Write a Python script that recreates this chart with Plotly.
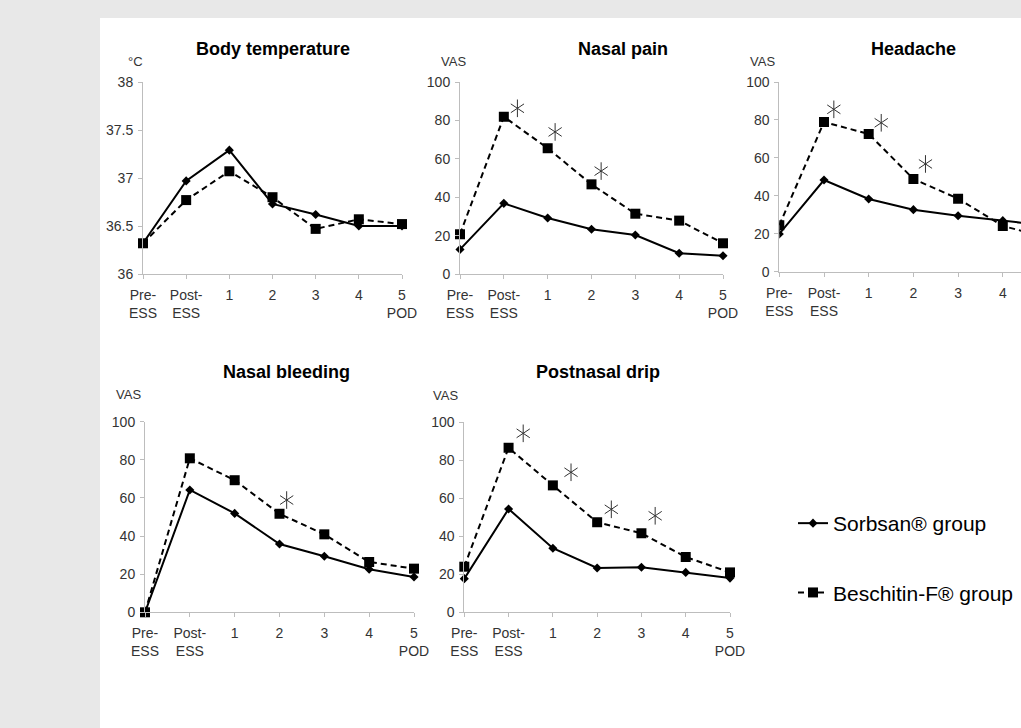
import plotly.graph_objects as go

# ---------------- data ----------------
categories = ["Pre-<br>ESS", "Post-<br>ESS", "1", "2", "3", "4", "5<br>POD"]

temp_sorbsan = [36.32, 36.97, 37.29, 36.73, 36.62, 36.50, 36.50]
temp_beschitin = [36.32, 36.77, 37.07, 36.80, 36.47, 36.57, 36.52]

pain_sorbsan = [12.8, 36.8, 29.2, 23.3, 20.3, 10.8, 9.5]
pain_beschitin = [20.7, 81.9, 65.5, 46.7, 31.4, 27.8, 16.0]
pain_sig_x = [1.31, 2.17, 3.22]
pain_sig_y = [86.3, 74.0, 53.6]

head_sorbsan = [19.9, 48.3, 38.3, 32.7, 29.5, 26.9, 24.3]
head_beschitin = [24.5, 78.9, 72.6, 48.9, 38.5, 24.1, 18.0]
head_sig_x = [1.22, 2.28, 3.27]
head_sig_y = [85.6, 78.5, 56.8]

bleed_sorbsan = [0.0, 64.2, 51.9, 35.8, 29.4, 22.6, 18.5]
bleed_beschitin = [0.0, 80.8, 69.3, 51.7, 40.9, 26.4, 22.9]
bleed_sig_x = [3.16]
bleed_sig_y = [58.9]

drip_sorbsan = [17.7, 54.4, 33.7, 23.3, 23.7, 21.0, 18.0]
drip_beschitin = [24.0, 86.6, 66.8, 47.4, 41.6, 29.1, 21.0]
drip_sig_x = [1.33, 2.41, 3.32, 4.31]
drip_sig_y = [94.2, 73.7, 54.2, 50.8]

titles = ["Body temperature", "Nasal pain", "Headache", "Nasal bleeding", "Postnasal drip"]
units = ["\u00b0C", "VAS", "VAS", "VAS", "VAS"]
temp_ticks = [36, 36.5, 37, 37.5, 38]
vas_ticks = [0, 20, 40, 60, 80, 100]
series_names = ["Sorbsan\u00ae group", "Beschitin-F\u00ae group"]

# ---------------- layout geometry (pixels) ----------------
W, H = 1021, 728
FONT = "Liberation Sans, Arial, sans-serif"

def fx(px):
    return px / W

def fy(py):
    return 1 - py / H

# (x_left, x_right, y_top, y_bottom, xmax)
panels = [
    (143, 402, 82, 274, 6),
    (460, 723, 82, 274, 6),
    (779.3, 1021, 82, 271.7, (1021 - 779.3) / 44.7),
    (145, 414, 421.7, 612.3, 6),
    (464.3, 730, 422.3, 612.3, 6),
]
title_pos = [(273, 49), (623, 49), (913, 49), (286, 372), (598, 372)]
unit_pos = [(135, 61), (453, 61), (762, 61), (128, 395), (445, 396)]

data = [
    (temp_sorbsan, temp_beschitin, [], []),
    (pain_sorbsan, pain_beschitin, pain_sig_x, pain_sig_y),
    (head_sorbsan, head_beschitin, head_sig_x, head_sig_y),
    (bleed_sorbsan, bleed_beschitin, bleed_sig_x, bleed_sig_y),
    (drip_sorbsan, drip_beschitin, drip_sig_x, drip_sig_y),
]

x_idx = list(range(len(categories)))

fig = go.Figure()
layout_axes = {}
annotations = []

for i, ((xl, xr, yt, yb, xmax), (s, b, sx, sy)) in enumerate(zip(panels, data)):
    n = i + 1
    xa = "x" if n == 1 else f"x{n}"
    ya = "y" if n == 1 else f"y{n}"
    show = (i == 0)
    fig.add_trace(go.Scatter(
        x=x_idx, y=s, xaxis=xa, yaxis=ya, mode="lines+markers",
        name=series_names[0], legendgroup="s", showlegend=show,
        line=dict(color="black", width=2),
        marker=dict(symbol="diamond", size=7, color="black"),
        cliponaxis=(n == 3),
    ))
    fig.add_trace(go.Scatter(
        x=x_idx, y=b, xaxis=xa, yaxis=ya, mode="lines+markers",
        name=series_names[1], legendgroup="b", showlegend=show,
        line=dict(color="black", width=2, dash="6px,4px"),
        marker=dict(symbol="square", size=10, color="black"),
        cliponaxis=(n == 3),
    ))
    if sx:
        for sym in ["y-up-open", "y-down-open"]:
            fig.add_trace(go.Scatter(
                x=sx, y=sy, xaxis=xa, yaxis=ya, mode="markers",
                showlegend=False, hoverinfo="skip",
                marker=dict(symbol=sym, size=11, color="#333",
                            line=dict(color="#333", width=1)),
                cliponaxis=False,
            ))
    is_temp = (i == 0)
    xkey = "xaxis" if n == 1 else f"xaxis{n}"
    ykey = "yaxis" if n == 1 else f"yaxis{n}"
    layout_axes[xkey] = dict(
        domain=[fx(xl), min(1.0, fx(xr))], anchor=ya, range=[0, xmax],
        tickmode="array", tickvals=x_idx, ticktext=categories,
        showline=True, linecolor="#bdbdbd", linewidth=1,
        ticks="outside", ticklen=4, tickcolor="#bdbdbd",
        showgrid=False, zeroline=False, fixedrange=True, automargin=False,
        tickfont=dict(family=FONT, size=14, color="#333"),
        ticklabelstandoff=4,
    )
    layout_axes[ykey] = dict(
        domain=[fy(yb), fy(yt)], anchor=xa,
        range=[36, 38] if is_temp else [0, 100],
        tickmode="array", tickvals=temp_ticks if is_temp else vas_ticks,
        ticktext=[("%g" % v) for v in (temp_ticks if is_temp else vas_ticks)],
        showline=True, linecolor="#bdbdbd", linewidth=1,
        ticks="outside", ticklen=4, tickcolor="#bdbdbd",
        showgrid=False, zeroline=False, fixedrange=True, automargin=False,
        tickfont=dict(family=FONT, size=14, color="#333"),
        ticklabelstandoff=2,
    )
    tx, ty = title_pos[i]
    annotations.append(dict(
        text=titles[i], x=fx(tx), y=fy(ty), xref="paper", yref="paper",
        xanchor="center", yanchor="middle", showarrow=False,
        font=dict(family=FONT, size=18, color="black", weight="bold"),
    ))
    ux, uy = unit_pos[i]
    annotations.append(dict(
        text=units[i], x=fx(ux), y=fy(uy), xref="paper", yref="paper",
        xanchor="center", yanchor="middle", showarrow=False,
        font=dict(family=FONT, size=13, color="#333"),
    ))

fig.update_layout(
    width=W, height=H,
    margin=dict(l=0, r=0, t=0, b=0, pad=0, autoexpand=False),
    paper_bgcolor="#e8e8e8", plot_bgcolor="rgba(0,0,0,0)",
    showlegend=True,
    legend=dict(
        x=fx(793), y=fy(503), xanchor="left", yanchor="top",
        font=dict(family=FONT, size=21, color="black"),
        bgcolor="rgba(0,0,0,0)", traceorder="grouped", tracegroupgap=39,
    ),
    annotations=annotations,
    shapes=[dict(type="rect", xref="paper", yref="paper",
                 x0=fx(100), x1=1.0, y0=0, y1=fy(18),
                 fillcolor="white", line=dict(width=0), layer="below")],
    **layout_axes,
)

fig.write_html(
    "out.html",
    config={"responsive": False, "displayModeBar": False},
    post_script="document.body.style.margin='0';document.body.style.overflow='hidden';"
                "document.documentElement.style.overflow='hidden';",
)
